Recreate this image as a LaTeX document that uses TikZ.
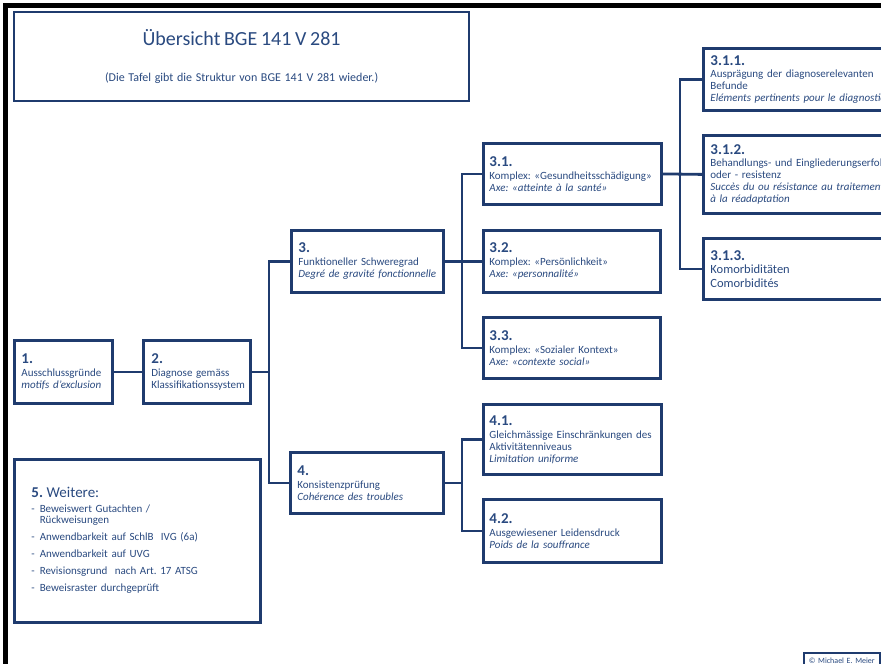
\documentclass[tikz,border=0pt]{standalone}
\usepackage{fontspec}
\setmainfont{Carlito}
\frenchspacing
\hyphenpenalty=10000
\exhyphenpenalty=10000
\definecolor{navy}{HTML}{1F3B6E}
\definecolor{txt}{HTML}{2A4A80}
\newcommand{\bnum}[1]{{\fontsize{15}{15}\selectfont\bfseries #1}}
\begin{document}
\begin{tikzpicture}[x=1pt,y=-1pt,
  box/.style={draw=navy, line width=2.8pt, fill=white, anchor=north west,
    inner xsep=9pt, inner ysep=2pt, align=left, text=txt,
    font=\fontsize{11}{12}\selectfont},
  conn/.style={draw=navy, line width=2.8pt},
  frame/.style={draw=black, line width=5pt}]
\useasboundingbox (0,0) rectangle (881,664);
\clip (0,0) rectangle (881,664);
\fill[white] (0,0) rectangle (881,664);
\draw[frame] (5.5,670) -- (5.5,5.5) -- (890,5.5);

\coordinate (b1) at (269,0);
\coordinate (b2) at (462,0);
\coordinate (b3) at (680,0);

\node[box, line width=2.2pt, minimum width=455pt, minimum height=89pt, text width=437pt, align=center] (n0) at (13,11)
  {{\fontsize{20}{24}\selectfont Übersicht BGE 141 V 281}\\[24pt]
   {\fontsize{12}{13}\selectfont (Die Tafel gibt die Struktur von BGE 141 V 281 wieder.)}};

\node[box, minimum width=98pt, minimum height=63pt, text width=84pt, inner xsep=7pt] (n1) at (13,339)
  {\bnum{1.}\\[1pt] Ausschlussgründe\\ \textit{motifs d'exclusion}};
\node[box, minimum width=107pt, minimum height=63pt, text width=97pt, inner xsep=5pt] (n2) at (142,339)
  {\hspace*{3pt}\bnum{2.}\\[1pt] \hspace*{3pt}Diagnose gemäss\\ \hspace*{3pt}Klassifikationssystem};

\node[box, minimum width=152pt, minimum height=62pt, text width=138pt, inner xsep=7pt] (n3) at (290,229)
  {\bnum{3.}\\[1pt] Funktioneller Schweregrad\\ \textit{Degré de gravité fonctionnelle}};

\node[box, minimum width=178pt, minimum height=61pt, text width=166pt, inner xsep=6pt] (n31) at (482,142)
  {\bnum{3.1.}\\[1pt] Komplex: «Gesundheitsschädigung»\\ \textit{Axe: «atteinte à la santé»}};
\node[box, minimum width=177pt, minimum height=62pt, text width=165pt, inner xsep=6pt] (n32) at (482,229)
  {\bnum{3.2.}\\[1pt] Komplex: «Persönlichkeit»\\ \textit{Axe: «personnalité»}};
\node[box, minimum width=177pt, minimum height=61pt, text width=165pt, inner xsep=6pt] (n33) at (482,316)
  {\bnum{3.3.}\\[1pt] Komplex: «Sozialer Kontext»\\ \textit{Axe: «contexte social»}};

\node[box, minimum width=230pt, minimum height=62pt, text width=216pt, inner xsep=7pt] (n311) at (702,47)
  {\bnum{3.1.1.}\\[0pt] Ausprägung der diagnoserelevanten\\ Befunde\\ \textit{Eléments pertinents pour le diagnostic}};
\node[box, minimum width=230pt, minimum height=78pt, text width=216pt, inner xsep=7pt] (n312) at (702,134)
  {\bnum{3.1.2.}\\[0pt] Behandlungs- und Eingliederungserfolg\\ oder - resistenz\\ \textit{Succès du ou résistance au traitement}\\ \textit{à la réadaptation}};
\node[box, minimum width=230pt, minimum height=61pt, text width=216pt, inner xsep=7pt, font=\fontsize{12.5}{13.5}\selectfont] (n313) at (702,237)
  {\bnum{3.1.3.}\\[0pt] Komorbiditäten\\ Comorbidités};

\node[box, minimum width=153pt, minimum height=61pt, text width=139pt, inner xsep=7pt] (n4) at (289,451)
  {\bnum{4.}\\[1pt] Konsistenzprüfung\\ \textit{Cohérence des troubles}};
\node[box, minimum width=178pt, minimum height=70pt, text width=166pt, inner xsep=6pt] (n41) at (482,403)
  {\bnum{4.1.}\\[1pt] Gleichmässige Einschränkungen des\\ Aktivitätenniveaus\\ \textit{Limitation uniforme}};
\node[box, minimum width=178pt, minimum height=63pt, text width=166pt, inner xsep=6pt] (n42) at (482,498)
  {\bnum{4.2.}\\[1pt] Ausgewiesener Leidensdruck\\ \textit{Poids de la souffrance}};

\node[box, minimum width=246pt, minimum height=163pt, text width=212pt, inner xsep=17pt] (n5) at (13,458)
  {{\fontsize{15}{16}\selectfont\textbf{5.} Weitere:}\\[5pt]
   \begin{tabular}{@{}l@{\hspace{5pt}}l@{}}
   - & Beweiswert Gutachten /\\[-1pt]
     & Rückweisungen\\[5pt]
   - & Anwendbarkeit auf SchlB\ \ IVG (6a)\\[5pt]
   - & Anwendbarkeit auf UVG\\[5pt]
   - & Revisionsgrund\ \ nach Art. 17 ATSG\\[5pt]
   - & Beweisraster durchgeprüft
   \end{tabular}};

\node[box, line width=1.6pt, minimum width=76pt, minimum height=20pt, text width=72pt, inner xsep=2pt, align=center, font=\fontsize{8}{9}\selectfont, inner ysep=2pt] (cp) at (803,652)
  {\raisebox{5pt}{© Michael E. Meier}};

% connectors
\draw[conn] (n1) -- (n2);
\draw[conn] (n2.east) -- (n2.east -| b1);
\draw[conn] (n3.west) -- (n3.west -| b1) -- (n4.west -| b1) -- (n4.west);
\draw[conn] (n3.east) -- (n32.west);
\draw[conn] (n31.west) -- (n31.west -| b2) -- (n33.west -| b2) -- (n33.west);
\draw[conn] (n31.east) -- (n312.west);
\draw[conn] (n311.west) -- (n311.west -| b3) -- (n313.west -| b3) -- (n313.west);
\draw[conn] (n4.east) -- (n4.east -| b2);
\draw[conn] (n41.west) -- (n41.west -| b2) -- (n42.west -| b2) -- (n42.west);
\end{tikzpicture}
\end{document}
